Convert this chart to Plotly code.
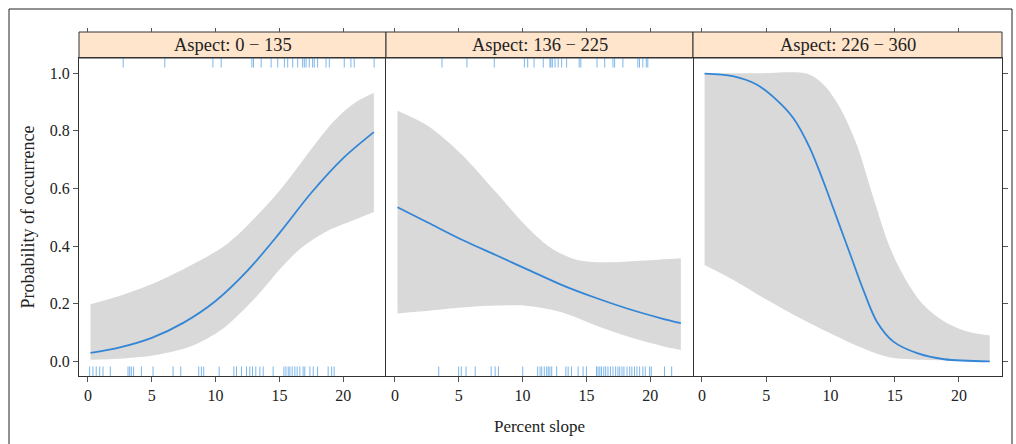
import plotly.graph_objects as go

# ---------------- data ----------------
panel_titles = ["Aspect: 0 \u2212 135", "Aspect: 136 \u2212 225", "Aspect: 226 \u2212 360"]
x_ticks = [0, 5, 10, 15, 20]
y_ticks = [0.0, 0.2, 0.4, 0.6, 0.8, 1.0]

# Panel 1 (0-135)
p1_line_x = [0.2, 2.5, 5, 7.5, 10, 12.5, 15, 17.5, 20, 22.4]
p1_line_y = [0.030, 0.049, 0.082, 0.135, 0.21, 0.315, 0.445, 0.585, 0.705, 0.795]
p1_up_x = [0.2, 2.7, 5.35, 8.0, 10.6, 12.0, 13.2, 14.4, 15.6, 16.8, 18.0, 19.2, 20.4, 21.4, 22.4]
p1_up_y = [0.199, 0.231, 0.275, 0.332, 0.398, 0.45, 0.504, 0.561, 0.625, 0.695, 0.765, 0.83, 0.88, 0.91, 0.931]
p1_lo_x = [0.2, 2.7, 5.35, 8.0, 10.6, 13.2, 15.0, 16.3, 17.6, 18.9, 20.7, 22.4]
p1_lo_y = [0.006, 0.011, 0.023, 0.052, 0.115, 0.225, 0.318, 0.378, 0.422, 0.456, 0.488, 0.518]
p1_rug_top = [2.76, 6.02, 9.79, 10.44, 12.84, 12.97, 13.57, 14.35, 14.87, 15.39, 15.65,
              16.04, 16.43, 16.82, 16.95, 17.09, 17.34, 17.6, 17.73, 17.99, 18.65, 18.91,
              20.08, 20.6, 20.86, 22.42]
p1_rug_bot = [0.13, 0.39, 0.65, 0.92, 1.18, 1.75, 3.14, 3.27, 3.40, 3.58, 4.19, 5.1, 6.67,
              7.27, 8.68, 8.89, 9.07, 10.28, 11.43, 11.64, 12.03, 12.42, 12.68, 12.89, 13.15,
              13.47, 13.73, 14.51, 15.35, 15.51, 15.69, 15.82, 16.0, 16.21, 16.39, 16.6,
              16.86, 16.99, 17.39, 17.65, 17.99, 18.82, 19.09, 19.29]

# Panel 2 (136-225)
p2_line_x = [0.2, 2.65, 5.25, 7.85, 10.45, 13.05, 15.65, 18.25, 20.85, 22.4]
p2_line_y = [0.535, 0.48, 0.422, 0.37, 0.318, 0.266, 0.222, 0.183, 0.15, 0.133]
p2_up_x = [0.2, 2.65, 5.25, 7.85, 10.45, 12.25, 14.3, 16.9, 19.5, 22.4]
p2_up_y = [0.869, 0.815, 0.717, 0.59, 0.462, 0.393, 0.352, 0.344, 0.35, 0.358]
p2_lo_x = [0.2, 2.65, 5.25, 7.85, 10.45, 13.05, 15.65, 18.25, 20.85, 22.4]
p2_lo_y = [0.167, 0.176, 0.187, 0.194, 0.193, 0.171, 0.127, 0.087, 0.055, 0.04]
p2_rug_top = [3.69, 5.64, 7.78, 10.14, 10.4, 10.9, 11.62, 12.14, 12.22, 12.33, 12.54, 12.79,
              13.06, 13.45, 14.43, 14.56, 15.83, 16.43, 17.08, 17.21, 17.86, 19.03, 19.16,
              19.42, 19.69, 19.81]
p2_rug_bot = [3.43, 4.99, 5.2, 5.57, 6.29, 7.54, 7.85, 8.11, 10.01, 11.18, 11.37, 11.5, 11.7,
              11.89, 12.01, 12.14, 12.28, 12.67, 13.39, 13.57, 13.83, 14.35, 14.74, 15.0,
              15.79, 15.91, 16.05, 16.18, 16.36, 16.51, 16.69, 16.88, 17.08, 17.29, 17.47,
              17.61, 17.79, 17.94, 18.18, 18.39, 18.56, 18.77, 18.96, 19.17, 19.42, 19.61,
              19.95, 20.08, 21.12, 21.68]

# Panel 3 (226-360)
p3_line_x = [0.2, 2.4, 4.25, 5.8, 7.1, 8.4, 9.45, 10.5, 11.55, 12.6, 13.6, 14.9, 16.75, 18.85, 22.4]
p3_line_y = [0.998, 0.989, 0.96, 0.907, 0.844, 0.74, 0.624, 0.497, 0.37, 0.243, 0.139, 0.069, 0.029, 0.008, 0.001]
p3_up_x = [0.2, 4.2, 8.2, 9.45, 10.75, 12.05, 13.35, 14.65, 15.95, 17.25, 18.85, 20.65, 22.4]
p3_up_y = [0.999, 0.999, 0.997, 0.96, 0.879, 0.751, 0.566, 0.393, 0.277, 0.196, 0.139, 0.104, 0.09]
p3_lo_x = [0.2, 2.45, 5.05, 7.65, 10.25, 12.85, 14.65, 17.25, 22.4]
p3_lo_y = [0.335, 0.283, 0.214, 0.15, 0.092, 0.04, 0.014, 0.006, 0.003]
p3_rug_top = []
p3_rug_bot = []

panels = [
    (p1_line_x, p1_line_y, p1_up_x, p1_up_y, p1_lo_x, p1_lo_y, p1_rug_top, p1_rug_bot),
    (p2_line_x, p2_line_y, p2_up_x, p2_up_y, p2_lo_x, p2_lo_y, p2_rug_top, p2_rug_bot),
    (p3_line_x, p3_line_y, p3_up_x, p3_up_y, p3_lo_x, p3_lo_y, p3_rug_top, p3_rug_bot),
]

# ---------------- style ----------------
FONT = "Liberation Serif"
LINE_COL = "#3385d6"
BAND_COL = "#d9d9d9"
RUG_COL = "rgba(40,135,220,0.6)"
STRIP_COL = "#ffe5cc"
FRAME_COL = "#333333"
TICK_COL = "#555555"
TXT_COL = "#222222"
X_RANGE = [-0.7, 23.35]
Y_RANGE = [-0.05, 1.052]
RUG_FRAC = 0.03
W, H = 1016, 444
ML, MR, MT, MB = 79, 14, 32, 68
PW, PH = W - ML - MR, H - MT - MB
PANEL_TOP = (H - MB - 58) / PH   # domain top of panels (strip above)
b1, b2 = 307 / PW, 614 / PW
x_domains = [[0.0, b1], [b1, b2], [b2, 1.0]]

fig = go.Figure()

span = Y_RANGE[1] - Y_RANGE[0]
bot_lo, bot_hi = Y_RANGE[0], Y_RANGE[0] + RUG_FRAC * span
top_lo, top_hi = Y_RANGE[1] - RUG_FRAC * span, Y_RANGE[1]

for i, (lx, ly, ux, uy, ox, oy, rt, rb) in enumerate(panels):
    xa = "x" if i == 0 else f"x{i+1}"
    ya = "y" if i == 0 else f"y{i+1}"
    # confidence band: lower edge, then upper edge filled to it
    fig.add_trace(go.Scatter(
        x=ox, y=oy, mode="lines", line=dict(width=0, color=BAND_COL, shape="spline", smoothing=0.9),
        xaxis=xa, yaxis=ya, hoverinfo="skip", showlegend=False))
    fig.add_trace(go.Scatter(
        x=ux, y=uy, mode="lines", fill="tonexty", fillcolor=BAND_COL,
        line=dict(width=0, color=BAND_COL, shape="spline", smoothing=0.9),
        xaxis=xa, yaxis=ya, hoverinfo="skip", showlegend=False))
    # fitted line
    fig.add_trace(go.Scatter(
        x=lx, y=ly, mode="lines", line=dict(color=LINE_COL, width=1.8, shape="spline", smoothing=0.9),
        xaxis=xa, yaxis=ya, showlegend=False))
    # rugs
    for vals, lo, hi in ((rt, top_lo, top_hi), (rb, bot_lo, bot_hi)):
        if not vals:
            continue
        rx, ry = [], []
        for v in vals:
            rx += [v, v, None]
            ry += [lo, hi, None]
        fig.add_trace(go.Scatter(x=rx, y=ry, mode="lines", line=dict(color=RUG_COL, width=1),
                                 xaxis=xa, yaxis=ya, hoverinfo="skip", showlegend=False))

layout = dict(
    width=W, height=H,
    margin=dict(l=ML, r=MR, t=MT, b=MB, autoexpand=False),
    paper_bgcolor="white", plot_bgcolor="white",
    font=dict(family=FONT, size=15, color=TXT_COL),
    showlegend=False,
)

for i in range(3):
    n = "" if i == 0 else str(i + 1)
    layout[f"xaxis{n}"] = dict(
        domain=x_domains[i], range=X_RANGE, anchor=f"y{n}",
        tickvals=x_ticks, ticks="outside", ticklen=5, tickcolor=TICK_COL,
        showgrid=False, zeroline=False, showline=True, linecolor=FRAME_COL, linewidth=1,
        mirror=True, tickfont=dict(family=FONT, size=16, color=TXT_COL),
        title=dict(text="Percent slope" if i == 1 else "", font=dict(family=FONT, size=17), standoff=16),
    )
    # top tick marks above the strips
    layout[f"xaxis{i+4}"] = dict(
        domain=x_domains[i], range=X_RANGE, anchor="free", position=1.0, side="top",
        overlaying="x" if i == 0 else f"x{i+1}",
        tickvals=x_ticks, ticks="outside", ticklen=4, tickcolor=TICK_COL,
        showticklabels=False, showgrid=False, zeroline=False, showline=False,
    )
    ydict = dict(
        domain=[0, PANEL_TOP], range=Y_RANGE, anchor=f"x{n}",
        tickvals=y_ticks, showgrid=False, zeroline=False, showline=True,
        linecolor=FRAME_COL, linewidth=1,
    )
    if i == 0:
        ydict.update(mirror=False, ticks="outside", ticklen=5, tickcolor=TICK_COL, tickformat=".1f",
                     tickfont=dict(family=FONT, size=16, color=TXT_COL),
                     title=dict(text="Probability of occurrence", font=dict(family=FONT, size=18), standoff=10))
    elif i == 2:
        ydict.update(mirror=False, side="right", ticks="outside", ticklen=5, tickcolor=TICK_COL,
                     showticklabels=False)
    else:
        ydict.update(mirror=True, ticks="", showticklabels=False)
    layout[f"yaxis{n}"] = ydict

fig.update_layout(**layout)

# invisible traces so the top tick axes are drawn
for i in range(3):
    fig.add_trace(go.Scatter(x=[None], y=[None], xaxis=f"x{i+4}", yaxis="y" if i == 0 else f"y{i+1}",
                             showlegend=False, hoverinfo="skip"))

# strips
for i, t in enumerate(panel_titles):
    fig.add_shape(type="rect", xref="paper", yref="paper",
                  x0=x_domains[i][0], x1=x_domains[i][1], y0=PANEL_TOP, y1=1.0,
                  fillcolor=STRIP_COL, line=dict(color=FRAME_COL, width=1), layer="below")
    fig.add_annotation(xref="paper", yref="paper", x=(x_domains[i][0] + x_domains[i][1]) / 2,
                       y=(PANEL_TOP + 1.0) / 2, text=t, showarrow=False,
                       font=dict(family=FONT, size=18.5, color=TXT_COL),
                       xanchor="center", yanchor="middle")

# outer frame
fig.add_shape(type="rect", xref="paper", yref="paper",
              x0=(9 - ML) / PW, x1=(1012 - ML) / PW,
              y0=-(H + 20 - (H - MB)) / PH, y1=(H - MB - 9) / PH,
              line=dict(color=TXT_COL, width=1), fillcolor="rgba(0,0,0,0)", layer="below")

fig.write_html("out.html", post_script="document.body.style.margin='0';",
               config={"displayModeBar": False})
